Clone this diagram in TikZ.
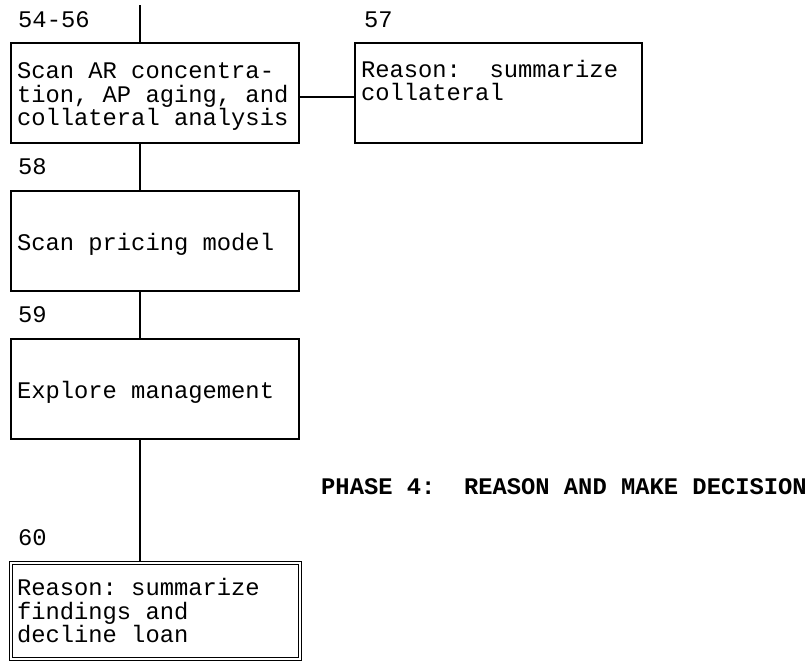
\documentclass[tikz,border=0pt]{standalone}
\usepackage{fontspec}
\newfontfamily\typew{Liberation Mono}
\newcommand{\twfont}{\typew\fontsize{23.8}{23.5}\selectfont}
\newcommand{\twbold}{\typew\bfseries\fontsize{23.8}{23.5}\selectfont}
\newcommand{\tsp}{\hspace*{0.6em}}
\begin{document}
\begin{tikzpicture}[x=1pt,y=-1pt,
  every node/.style={font=\twfont},
  boxnode/.style={draw, line width=1.4pt, rectangle, inner xsep=6pt, inner ysep=0pt,
    text width=#1, align=left, minimum height=100pt},
  shifted/.style={execute at begin node={\rule{0pt}{23pt}}},
  lbl/.style={anchor=west, inner sep=0pt},
  conn/.style={line width=1.4pt}]
\useasboundingbox (0,0) rectangle (812,662);
\coordinate (top) at (140,5);
\node[lbl] (l1) at (18,20) {54-56};
\node[lbl] (l2) at (364,20) {57};
\node[boxnode=276pt, shifted] (box1) at (155,93) {Scan\tsp AR\tsp concentra-\\tion,\tsp AP\tsp aging,\tsp and\\collateral\tsp analysis};
\node[boxnode=275pt, shifted] (box2) at (498.5,93) {Reason:\tsp\tsp summarize\\collateral\\\strut};
\node[lbl] (l3) at (18,167) {58};
\node[boxnode=276pt, shifted] (box3) at (155,241) {Scan\tsp pricing\tsp model};
\node[lbl] (l4) at (18,315) {59};
\node[boxnode=276pt, shifted] (box4) at (155,389) {Explore\tsp management};
\node[lbl] (l5) at (18,538) {60};
\node[boxnode=277pt, double, double distance=2.2pt, line width=1.2pt, minimum height=96pt] (box5) at (155.5,611) {Reason:\tsp summarize\\findings\tsp and\\decline\tsp loan};
\node[lbl, font=\twbold] (phase) at (321,487) {PHASE\tsp 4:\tsp\tsp REASON\tsp AND\tsp MAKE\tsp DECISION};
\draw[conn] (top) -- (top |- box1.north);
\draw[conn] ([yshift=-4pt]box1.east) -- ([yshift=-4pt]box2.west);
\draw[conn] (box1.south -| top) -- (box3.north -| top);
\draw[conn] (box3.south -| top) -- (box4.north -| top);
\draw[conn] (box4.south -| top) -- (box5.north -| top);
\end{tikzpicture}
\end{document}
